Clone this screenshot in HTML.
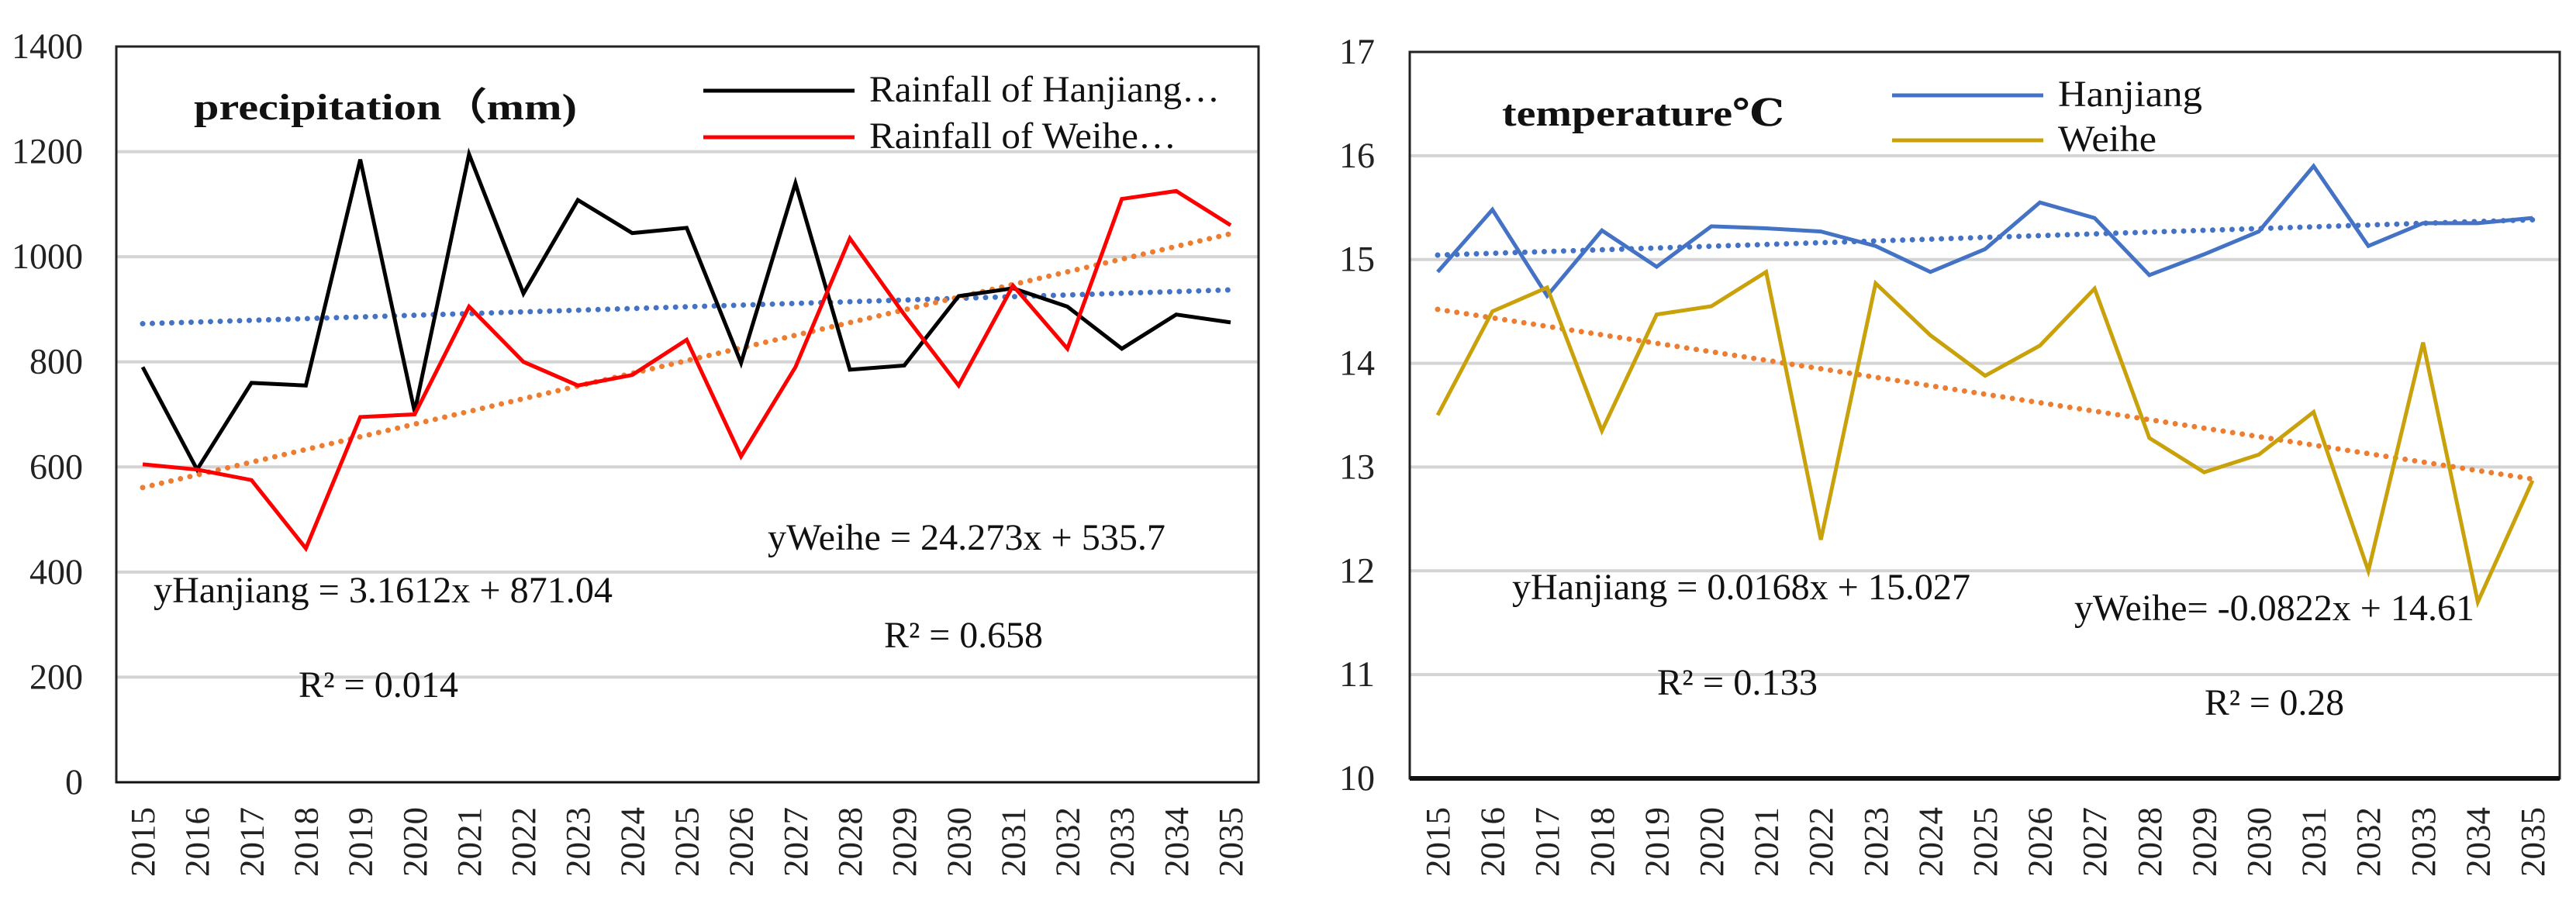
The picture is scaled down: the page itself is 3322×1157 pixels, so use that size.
<!DOCTYPE html>
<html><head><meta charset="utf-8"><style>
html,body{margin:0;padding:0;background:#fff;overflow:hidden;}
svg{display:block;}
text{font-family:"Liberation Serif","DejaVu Serif",serif;}
</style></head><body>
<svg id="chart" width="3322" height="1157" viewBox="0 0 3322 1157" xmlns="http://www.w3.org/2000/svg"></svg>
<script>
const years = ["2015","2016","2017","2018","2019","2020","2021","2022","2023","2024","2025","2026","2027","2028","2029","2030","2031","2032","2033","2034","2035"];
const rainHanjiang = [790,595,760,755,1185,705,1195,930,1108,1045,1055,798,1140,785,793,925,940,905,825,890,875];
const rainWeihe = [605,595,575,445,695,700,905,800,755,775,842,620,790,1035,890,755,945,825,1110,1125,1060];
const rainTicks = [0,200,400,600,800,1000,1200,1400];
const tempHanjiang = [14.88,15.48,14.65,15.28,14.93,15.32,15.3,15.27,15.13,14.88,15.1,15.55,15.4,14.85,15.05,15.27,15.9,15.13,15.35,15.35,15.4];
const tempWeihe = [13.5,14.5,14.73,13.35,14.47,14.55,14.88,12.3,14.77,14.27,13.88,14.17,14.72,13.28,12.95,13.12,13.53,12.0,14.2,11.7,12.87];
const tempTicks = [10,11,12,13,14,15,16,17];

const NS="http://www.w3.org/2000/svg";
const svg=document.getElementById('chart');
function mk(tag,attrs,parent){const e=document.createElementNS(NS,tag);for(const k in attrs)e.setAttribute(k,attrs[k]);(parent||svg).appendChild(e);return e;}
function txt(s,attrs,parent){const e=mk('text',attrs,parent);e.textContent=s;return e;}
function fit(v){const n=v.length;let sx=0,sy=0,sxy=0,sxx=0;v.forEach((y,i)=>{const x=i+1;sx+=x;sy+=y;sxy+=x*y;sxx+=x*x;});const b=(n*sxy-sx*sy)/(n*sxx-sx*sx);const a=(sy-b*sx)/n;return [a,b];}

function panel(cfg){
  const g=mk('g',{});
  
  
  const ys=v=>cfg.y0+(v-cfg.min)/(cfg.max-cfg.min)*(cfg.y1-cfg.y0);
  const xs=i=>cfg.x0+i*(cfg.x1-cfg.x0)/(years.length-1);
  cfg.ticks.forEach(t=>{
    if(t!==cfg.min&&t!==cfg.max){const l=mk('line',{x1:cfg.bl,x2:cfg.br,y1:ys(t),y2:ys(t),stroke:'#d4d4d4','stroke-width':4},g);
    }
    const tl=txt(String(t),{x:cfg.labR,y:ys(t)+15,'text-anchor':'end','font-size':47,fill:'#222',textLength:String(t).length*23,lengthAdjust:'spacingAndGlyphs'},g);
    
  });
  const box=mk('rect',{x:cfg.bl,y:ys(cfg.max),width:cfg.br-cfg.bl,height:ys(cfg.min)-ys(cfg.max),fill:'none',stroke:'#222','stroke-width':3},g);
  
  const ax=mk('line',{x1:cfg.bl,x2:cfg.br,y1:ys(cfg.min),y2:ys(cfg.min),stroke:'#111','stroke-width':cfg.axW},g);
  
  years.forEach((y,i)=>{
    const t=txt(y,{x:0,y:0,transform:`translate(${xs(i)+15},1131) rotate(-90)`,'font-size':44,fill:'#222',textLength:90,lengthAdjust:'spacingAndGlyphs'},g);
    
  });
  cfg.series.forEach(s=>{
    const [a,b]=fit(s.data);
    const tr=mk('line',{x1:xs(0),y1:ys(a+b),x2:xs(years.length-1),y2:ys(a+b*years.length),stroke:s.trend,'stroke-width':7,'stroke-dasharray':'0 12.5','stroke-linecap':'round'},g);
    
  });
  cfg.series.forEach(s=>{
    const p=mk('polyline',{points:s.data.map((v,i)=>xs(i)+','+ys(v)).join(' '),fill:'none',stroke:s.color,'stroke-width':5,'stroke-linejoin':'miter'},g);
    
  });
  cfg.texts.forEach(t=>{
    const e=txt(t.s,{x:t.x,y:t.y,'font-size':t.fs||48,'font-weight':t.b?'bold':'normal',fill:'#111',textLength:t.w,lengthAdjust:'spacingAndGlyphs'},g);
    
  });
  cfg.legend.forEach(l=>{
    const ln=mk('line',{x1:l.x1,x2:l.x2,y1:l.y,y2:l.y,stroke:l.c,'stroke-width':5},g);
    
  });
}

panel({name:'precipitation-chart',bl:150,br:1623,x0:184,x1:1587,y0:1009,y1:60,min:0,max:1400,labR:107,ticks:rainTicks,axW:3,
  series:[{name:'hanjiang-rainfall',data:rainHanjiang,color:'#000',trend:'#4472c4'},{name:'weihe-rainfall',data:rainWeihe,color:'#ff0000',trend:'#ed7d31'}],
  legend:[{x1:907,x2:1102,y:117,c:'#000'},{x1:907,x2:1102,y:177,c:'#ff0000'}],
  texts:[
    {s:'precipitation（mm)',x:250,y:154,w:494,b:true,fs:48,n:'chart-title'},
    {s:'Rainfall of Hanjiang…',x:1121,y:131,w:452,n:'legend-hanjiang'},
    {s:'Rainfall of Weihe…',x:1121,y:191,w:396,n:'legend-weihe'},
    {s:'yHanjiang = 3.1612x + 871.04',x:198,y:777,w:592,n:'hanjiang-equation'},
    {s:'R² = 0.014',x:385,y:899,w:206,n:'hanjiang-r2'},
    {s:'yWeihe = 24.273x + 535.7',x:990,y:709,w:513,n:'weihe-equation'},
    {s:'R² = 0.658',x:1140,y:835,w:205,n:'weihe-r2'}]});

panel({name:'temperature-chart',bl:1818,br:3301,x0:1854,x1:3266,y0:1004,y1:67,min:10,max:17,labR:1773,ticks:tempTicks,axW:6,
  series:[{name:'hanjiang-temperature',data:tempHanjiang,color:'#4472c4',trend:'#4472c4'},{name:'weihe-temperature',data:tempWeihe,color:'#c9a10a',trend:'#ed7d31'}],
  legend:[{x1:2440,x2:2635,y:123,c:'#4472c4'},{x1:2440,x2:2635,y:181,c:'#c9a10a'}],
  texts:[
    {s:'temperature℃',x:1937,y:162,w:364,b:true,fs:48,n:'chart-title'},
    {s:'Hanjiang',x:2654,y:137,w:186,n:'legend-hanjiang'},
    {s:'Weihe',x:2654,y:195,w:127,n:'legend-weihe'},
    {s:'yHanjiang = 0.0168x + 15.027',x:1950,y:773,w:591,n:'hanjiang-equation'},
    {s:'R² = 0.133',x:2137,y:896,w:207,n:'hanjiang-r2'},
    {s:'yWeihe= -0.0822x + 14.61',x:2675,y:800,w:516,n:'weihe-equation'},
    {s:'R² = 0.28',x:2843,y:922,w:180,n:'weihe-r2'}]});
</script>
</body></html>
